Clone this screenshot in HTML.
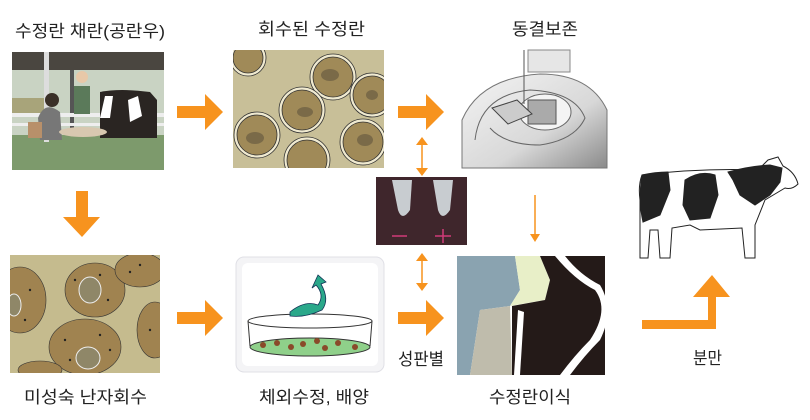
<!DOCTYPE html>
<html><head><meta charset="utf-8"><style>
html,body{margin:0;padding:0;background:#fff;}
svg{display:block;}
text{font-family:"Liberation Sans","Noto Sans CJK KR",sans-serif;font-size:17px;fill:#222;}
</style></head><body>
<svg width="810" height="420" viewBox="0 0 810 420" xmlns="http://www.w3.org/2000/svg">
<defs>
<linearGradient id="fg" x1="0" y1="0" x2="1" y2="1"><stop offset="0" stop-color="#f4f4f4"/><stop offset="0.6" stop-color="#d8d8d8"/><stop offset="1" stop-color="#8a8a8a"/></linearGradient>
<clipPath id="c2"><rect x="233" y="50" width="151" height="118"/></clipPath>
<clipPath id="c4"><rect x="10" y="255" width="150" height="118"/></clipPath>
</defs>
<text x="15" y="37" textLength="150" lengthAdjust="spacingAndGlyphs">수정란 채란(공란우)</text>
<text x="258" y="35" textLength="107" lengthAdjust="spacingAndGlyphs">회수된 수정란</text>
<text x="512" y="35" textLength="66" lengthAdjust="spacingAndGlyphs">동결보존</text>
<text x="24" y="403" textLength="123" lengthAdjust="spacingAndGlyphs">미성숙 난자회수</text>
<text x="259" y="403" textLength="110" lengthAdjust="spacingAndGlyphs">체외수정, 배양</text>
<text x="489" y="403" textLength="82" lengthAdjust="spacingAndGlyphs">수정란이식</text>
<text x="398" y="365" textLength="46" lengthAdjust="spacingAndGlyphs">성판별</text>
<text x="693" y="364" textLength="29" lengthAdjust="spacingAndGlyphs">분만</text>

<g>
<rect x="12" y="52" width="152" height="118" fill="#c9d3c3"/>
<rect x="12" y="52" width="152" height="18" fill="#4a4640"/>
<rect x="12" y="135" width="152" height="35" fill="#7d9a6c"/>
<rect x="12" y="98" width="35" height="16" fill="#a8a47a"/>
<rect x="44" y="52" width="5" height="90" fill="#ddd"/>
<rect x="70" y="70" width="4" height="60" fill="#555"/>
<rect x="12" y="113" width="152" height="4" fill="#eee"/>
<rect x="12" y="123" width="152" height="3" fill="#eee"/>
<path d="M100 92 Q120 88 150 92 L157 100 L157 138 L100 138 Z" fill="#2a2522"/>
<path d="M105 96 l8 0 l-3 22 l-10 0z M128 100 l10 -4 l4 20 l-12 6z" fill="#fff"/>
<rect x="74" y="86" width="16" height="28" fill="#5b7a5a"/>
<circle cx="82" cy="77" r="6" fill="#e8c8a8"/>
<path d="M38 118 Q45 100 60 112 L62 140 L40 140 Z" fill="#777"/>
<circle cx="52" cy="100" r="7" fill="#3a3028"/>
<ellipse cx="83" cy="132" rx="24" ry="5" fill="#d8c8b0"/>
<rect x="28" y="122" width="14" height="16" fill="#b8906a"/>
</g>

<g clip-path="url(#c2)">
<rect x="233" y="50" width="151" height="118" fill="#c8bf98"/>
<g fill="#f0ead0" stroke="#333" stroke-width="0.8">
<circle cx="333" cy="77" r="23"/><circle cx="302" cy="110" r="23"/>
<circle cx="257" cy="135" r="23"/><circle cx="372" cy="95" r="22"/>
<circle cx="363" cy="142" r="23"/><circle cx="307" cy="160" r="23"/>
<circle cx="248" cy="58" r="18"/>
</g>
<g fill="#a08a58" stroke="#333" stroke-width="0.8">
<circle cx="333" cy="77" r="20"/><circle cx="302" cy="110" r="20"/>
<circle cx="257" cy="135" r="20"/><circle cx="372" cy="95" r="19"/>
<circle cx="363" cy="142" r="20"/><circle cx="307" cy="160" r="20"/>
<circle cx="248" cy="58" r="15"/>
</g>
<g fill="#7a6a48">
<ellipse cx="330" cy="75" rx="9" ry="6"/><ellipse cx="305" cy="112" rx="8" ry="5"/>
<ellipse cx="255" cy="138" rx="9" ry="6"/><ellipse cx="365" cy="140" rx="8" ry="6"/>
<ellipse cx="372" cy="95" rx="6" ry="5"/>
</g>
</g>

<g>
<rect x="460" y="50" width="147" height="118" fill="#fff"/>
<path d="M462 168 L462 120 Q480 78 540 74 Q590 74 607 110 L607 168 Z" fill="url(#fg)" stroke="#777"/>
<path d="M475 140 Q480 95 530 90 Q575 92 585 118 Q575 140 540 145 Q505 145 490 128" fill="none" stroke="#666"/>
<rect x="528" y="50" width="42" height="22" fill="#e6e6e6" stroke="#888"/>
<ellipse cx="545" cy="112" rx="26" ry="18" fill="#f4f4f4" stroke="#666"/>
<rect x="528" y="100" width="28" height="24" fill="#aaa" stroke="#555"/>
<path d="M492 108 L517 100 L532 114 L508 124 Z" fill="#ccc" stroke="#444"/>
<line x1="524" y1="50" x2="524" y2="104" stroke="#555"/>
</g>

<g>
<rect x="376" y="177" width="91" height="68" fill="#3f262c"/>
<path d="M392 180 L412 180 L410 210 Q402 222 398 210 Z" fill="#c8ccd0"/>
<path d="M433 180 L453 180 L450 210 Q442 222 438 210 Z" fill="#c8ccd0"/>
<line x1="392" y1="236" x2="407" y2="236" stroke="#d03a78" stroke-width="1.5"/>
<line x1="435" y1="236" x2="451" y2="236" stroke="#d03a78" stroke-width="1.5"/>
<line x1="443" y1="229" x2="443" y2="243" stroke="#d03a78" stroke-width="1.5"/>
</g>

<g clip-path="url(#c4)">
<rect x="10" y="255" width="150" height="118" fill="#c5bb8e"/>
<g fill="#a08350" stroke="#333" stroke-width="0.6">
<ellipse cx="95" cy="290" rx="30" ry="27"/><ellipse cx="85" cy="347" rx="36" ry="28"/>
<ellipse cx="20" cy="300" rx="26" ry="33"/><ellipse cx="140" cy="270" rx="25" ry="17"/>
<ellipse cx="155" cy="330" rx="18" ry="28"/><ellipse cx="40" cy="370" rx="22" ry="9"/>
</g>
<g fill="#8f8768" stroke="#eee" stroke-width="1">
<ellipse cx="90" cy="290" rx="11" ry="13"/><ellipse cx="88" cy="358" rx="12" ry="11"/>
<ellipse cx="14" cy="305" rx="7" ry="11"/>
</g>
<g fill="#222">
<circle cx="75" cy="280" r="1.2"/><circle cx="108" cy="300" r="1.2"/><circle cx="100" cy="275" r="1.2"/>
<circle cx="65" cy="340" r="1.2"/><circle cx="100" cy="335" r="1.2"/><circle cx="110" cy="350" r="1.2"/>
<circle cx="30" cy="290" r="1.2"/><circle cx="25" cy="320" r="1.2"/><circle cx="140" cy="265" r="1.2"/>
<circle cx="150" cy="330" r="1.2"/><circle cx="70" cy="360" r="1.2"/><circle cx="130" cy="272" r="1.2"/>
</g>
</g>

<g>
<rect x="236" y="257" width="148" height="115" rx="8" fill="#f4f4f6" stroke="#e0e0e6"/>
<rect x="242" y="263" width="136" height="103" rx="6" fill="#fff"/>
<ellipse cx="310" cy="321" rx="62" ry="7" fill="#fff" stroke="#333"/>
<line x1="248" y1="321" x2="250" y2="346" stroke="#333"/>
<line x1="372" y1="321" x2="370" y2="346" stroke="#333"/>
<ellipse cx="310" cy="347" rx="60" ry="9" fill="#8fd08a" stroke="#333"/>
<g fill="#8a4a2a">
<circle cx="263" cy="345" r="3"/><circle cx="277" cy="343" r="3"/><circle cx="291" cy="347" r="3"/>
<circle cx="303" cy="344" r="3"/><circle cx="317" cy="341" r="3"/><circle cx="325" cy="348" r="3"/>
<circle cx="338" cy="343" r="3"/><circle cx="355" cy="347" r="3"/>
</g>
<path d="M290 312 Q305 300 318 305 Q325 295 316 285 L312 288 L318 275 L326 282 L321 284 Q330 300 322 310 Q305 318 290 316 Z" fill="#2aa88a" stroke="#135" stroke-width="0.8"/>
</g>

<g>
<rect x="457" y="256" width="148" height="119" fill="#fff"/>
<path d="M457 256 L515 256 L520 290 L510 306 L480 310 L470 375 L457 375 Z" fill="#8aa3b0"/>
<path d="M480 310 L510 306 L512 375 L470 375 Z" fill="#bfbcac"/>
<path d="M515 256 L540 256 L550 280 L545 300 L510 306 L520 290 Z" fill="#e8efc8"/>
<path d="M518 256 L605 256 L605 375 L512 375 L512 306 L545 300 L550 280 L540 256 Z" fill="#241a18"/>
<path d="M555 256 Q575 280 595 290 Q610 310 590 340 Q575 355 560 375 L570 375 Q585 355 600 340 Q615 310 600 285 Q580 275 565 256 Z" fill="#fff"/>
<path d="M518 310 L514 375 L520 375 L524 312 Z" fill="#fff"/>
</g>

<g stroke="#222" stroke-width="1">
<path d="M642 175 Q700 168 758 170 L768 160 L778 157 L783 166 Q795 172 798 184 Q792 190 785 188 L765 200 L755 225 L755 258 L745 258 L742 228 L700 230 L690 225 L672 228 L670 258 L660 258 L658 230 L650 230 L648 258 L640 258 L640 200 Q638 185 642 175 Z" fill="#fff"/>
<path d="M642 175 Q655 172 668 172 L670 190 L660 215 L643 222 Q638 200 642 175 Z" fill="#222"/>
<path d="M685 180 Q700 170 715 175 L718 195 L710 218 L690 220 L683 205 Z" fill="#222"/>
<path d="M728 172 Q750 166 770 165 L782 168 L780 182 L770 195 L755 205 L740 195 L733 180 Z" fill="#222"/>
</g>

<g fill="#f7931e">
<path d="M177 106 L205 106 L205 94 L223 112 L205 130 L205 118 L177 118 Z"/>
<path d="M398 106 L426 106 L426 94 L444 112 L426 130 L426 118 L398 118 Z"/>
<path d="M177 312 L205 312 L205 300 L223 318 L205 336 L205 324 L177 324 Z"/>
<path d="M398 312 L426 312 L426 300 L444 318 L426 336 L426 324 L398 324 Z"/>
<path d="M76 191 L88 191 L88 217 L100 217 L82 237 L63 217 L76 217 Z"/>
<path d="M642 320 L708 320 L708 297 L693 297 L712 275 L730 297 L716 297 L716 329 L642 329 Z"/>
</g>
<g stroke="#f7931e" stroke-width="1.5" fill="#f7931e">
<line x1="422" y1="141" x2="422" y2="172"/>
<path d="M416 145 L422 137 L428 145 Z M416 168 L422 176 L428 168 Z" stroke="none"/>
<line x1="422" y1="257" x2="422" y2="287"/>
<path d="M416 261 L422 253 L428 261 Z M416 283 L422 291 L428 283 Z" stroke="none"/>
<line x1="535" y1="195" x2="535" y2="238"/>
<path d="M530 234 L535 242 L540 234 Z" stroke="none"/>
</g>
</svg>
</body></html>
